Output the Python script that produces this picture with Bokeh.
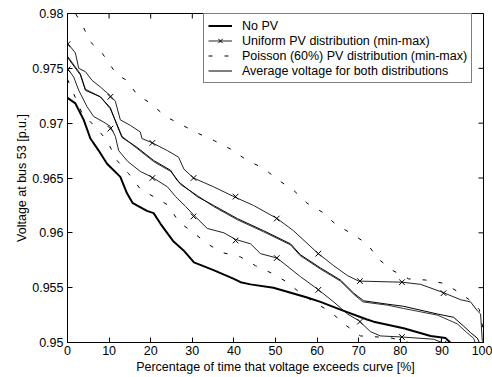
import math
from bokeh.plotting import figure
from bokeh.models import FixedTicker, Legend, LegendItem, Range1d
from bokeh.embed import file_html
from bokeh.resources import INLINE

# ---------------- data ----------------
nopv_x = [0, 1.9, 3.9, 5.5, 7.5, 9.5, 12.7, 14.3, 15.7, 19.1, 20.7, 22.4, 25.5, 27.9,
          30.4, 35.1, 40, 41.6, 44, 49.5, 57.6, 60.8, 65.6, 72, 73.6, 80.8, 87.3, 90.9, 92]
nopv_y = [0.9723, 0.9718, 0.9703, 0.9686, 0.9675, 0.9663, 0.9651, 0.9636, 0.9627, 0.9620,
          0.9618, 0.9608, 0.9592, 0.9584, 0.9573, 0.9566, 0.9558, 0.9555, 0.9553, 0.9550,
          0.9541, 0.9537, 0.9530, 0.9521, 0.9519, 0.9513, 0.9506, 0.9504, 0.9500]

umax_x = [0, 1.9, 2.7, 4.3, 5.9, 7.9, 10.3, 11.5, 12.7, 15.1, 17.5, 17.9, 20.4, 24, 26.7,
          28, 30.3, 35.1, 40, 44.7, 50.4, 54.3, 60, 64, 67.3, 70, 80.4, 84.9, 90, 94.5,
          96.9, 98.5, 99.3, 99.7, 100]
umax_y = [0.9773, 0.9764, 0.9750, 0.9747, 0.9739, 0.9733, 0.9725, 0.9720, 0.9703, 0.9698,
          0.9692, 0.9686, 0.9682, 0.9675, 0.9669, 0.9658, 0.9650, 0.9642, 0.9633, 0.9625,
          0.9613, 0.9602, 0.9582, 0.9570, 0.9561, 0.9556, 0.9555, 0.9553, 0.9546, 0.9539,
          0.9537, 0.9529, 0.9526, 0.9502, 0.9500]

umin_x = [0, 1.5, 2.7, 4.7, 6.3, 8.7, 10.3, 11.5, 12.3, 14.5, 17.5, 20.2, 24, 26, 28.4,
          30.4, 33.6, 37.6, 40.4, 44, 46.4, 50.4, 56, 60, 64, 67.3, 70, 72.8, 75.2, 80.4,
          88, 90, 91]
umin_y = [0.9750, 0.9742, 0.9730, 0.9715, 0.9706, 0.9701, 0.9697, 0.9688, 0.9675, 0.9665,
          0.9656, 0.9651, 0.9642, 0.9633, 0.9624, 0.9616, 0.9604, 0.9600, 0.9594, 0.9590,
          0.9581, 0.9577, 0.9560, 0.9549, 0.9537, 0.9526, 0.9520, 0.9510, 0.9506, 0.9505,
          0.9503, 0.9500, 0.9495]

umax_mark_x = [0, 10.3, 20.4, 30.3, 40.4, 50.3, 60.3, 70.3, 80.4, 90.4]
umax_mark_y = [0.9772, 0.9724, 0.9682, 0.9650, 0.9633, 0.9613, 0.9581, 0.9556, 0.9555, 0.9545]
umin_mark_x = [0, 10.3, 20.4, 30.3, 40.4, 50.3, 60.3, 70.3, 80.4, 90.4]
umin_mark_y = [0.9749, 0.9695, 0.9650, 0.9615, 0.9593, 0.9577, 0.9548, 0.9519, 0.9505, 0.9499]

pmax_x = [0, 3.5, 5.5, 8.3, 11.9, 14.3, 16.7, 20, 23.6, 27.2, 31.2, 35.3, 39.4, 43.2, 47.1,
          50.7, 54.3, 57.6, 61.2, 64.4, 68.4, 72, 74.8, 78, 82, 86, 90.4, 94, 97.3, 99, 100]
pmax_y = [0.9812, 0.9790, 0.9774, 0.9764, 0.9744, 0.9739, 0.9726, 0.9718, 0.9706, 0.9699,
          0.9691, 0.9684, 0.9676, 0.9666, 0.9659, 0.9648, 0.9639, 0.9627, 0.9619, 0.9608,
          0.9599, 0.9590, 0.9576, 0.9566, 0.9558, 0.9557, 0.9554, 0.9546, 0.9537, 0.9530,
          0.9510]

pmin_x = [0, 3.5, 7.1, 9.5, 11.9, 14.7, 17.5, 20.7, 24.3, 26.7, 30, 33.6, 37.2, 41.6, 45.2,
          49.2, 52.8, 56, 59.6, 63.2, 66.8, 70.4, 74.8, 78, 82, 84]
pmin_y = [0.9740, 0.9709, 0.9695, 0.9684, 0.9666, 0.9654, 0.9640, 0.9633, 0.9625, 0.9610,
          0.9601, 0.9590, 0.9582, 0.9578, 0.9570, 0.9563, 0.9555, 0.9545, 0.9536, 0.9528,
          0.9516, 0.9506, 0.9505, 0.9504, 0.9500, 0.9497]

avgu_x = [0, 3.1, 4.3, 7.9, 10.3, 11.9, 13.1, 16.7, 20.7, 24.8, 26.3, 27.2, 31.2, 35.1, 40.8,
          47.1, 53.6, 56, 60.8, 65.6, 68.8, 71.2, 76.8, 80.8, 88.9, 92.8, 95.2, 96.9, 98.5, 99]
avgu_y = [0.9760, 0.9744, 0.9730, 0.9724, 0.9714, 0.9698, 0.9687, 0.9678, 0.9666, 0.9657,
          0.9648, 0.9645, 0.9633, 0.9625, 0.9613, 0.9602, 0.9590, 0.9580, 0.9568, 0.9557,
          0.9545, 0.9538, 0.9535, 0.9533, 0.9526, 0.9523, 0.9515, 0.9509, 0.9504, 0.9500]

avgp_x = [0, 3.1, 4.3, 7.9, 10.3, 11.9, 13.1, 16.7, 20.7, 24.8, 26.3, 27.2, 31.2, 35.1, 40.8,
          47.1, 53.6, 56, 60.8, 65.6, 68.8, 71, 77, 80.8, 88.9, 93.7, 96, 97.6, 98]
avgp_y = [0.9761, 0.9745, 0.9731, 0.9724, 0.9713, 0.9699, 0.9688, 0.9677, 0.9665, 0.9656,
          0.9649, 0.9644, 0.9634, 0.9624, 0.9612, 0.9601, 0.9589, 0.9579, 0.9567, 0.9556,
          0.9544, 0.9537, 0.9534, 0.9531, 0.9525, 0.9517, 0.9509, 0.9504, 0.9500]

x_ticks = [0, 10, 20, 30, 40, 50, 60, 70, 80, 90, 100]
x_tick_labels = ["0", "10", "20", "30", "40", "50", "60", "70", "80", "90", "100"]
y_ticks = [0.95, 0.955, 0.96, 0.965, 0.97, 0.975, 0.98]
y_tick_labels = ["0.95", "0.955", "0.96", "0.965", "0.97", "0.975", "0.98"]

legend_labels = ["No PV", "Uniform PV distribution (min-max)",
                 "Poisson (60%) PV distribution (min-max)",
                 "Average voltage for both distributions"]

# ---------------- figure ----------------
FONT = "Liberation Sans"
FS = "12.5px"
p = figure(width=492, height=377, output_backend="svg", toolbar_location=None,
           x_range=Range1d(0, 100), y_range=Range1d(0.95, 0.98),
           min_border_left=67, min_border_right=9, min_border_top=13, min_border_bottom=35,
           x_axis_label="Percentage of time that voltage exceeds curve [%]",
           y_axis_label="Voltage at bus 53 [p.u.]")
p.background_fill_color = "white"
p.border_fill_color = "white"
p.outline_line_color = "black"
p.outline_line_width = 1
p.xgrid.visible = False
p.ygrid.visible = False

def style_axis(ax, ticks, labels):
    ax.ticker = FixedTicker(ticks=ticks)
    ax.major_label_overrides = dict(zip(ticks, labels))
    ax.minor_tick_line_color = None
    ax.major_tick_in = 5
    ax.major_tick_out = 0
    ax.axis_line_color = "black"
    ax.major_tick_line_color = "black"
    ax.major_label_text_font = FONT
    ax.major_label_text_font_size = FS
    ax.major_label_text_color = "black"
    ax.axis_label_text_font = FONT
    ax.axis_label_text_font_style = "normal"
    ax.axis_label_text_font_size = FS
    ax.axis_label_text_color = "black"

style_axis(p.xaxis[0], x_ticks, x_tick_labels)
p.xaxis[0].major_label_standoff = 3
p.xaxis[0].axis_label_standoff = 2
style_axis(p.yaxis[0], y_ticks, y_tick_labels)
p.yaxis[0].major_label_standoff = 4
p.yaxis[0].axis_label_standoff = 0

# inward ticks on the top and right edges of the box
p.ray(x=x_ticks, y=[p.y_range.end] * len(x_ticks), length=5, length_units="screen",
      angle=-math.pi / 2, line_color="black", line_width=1)
p.ray(x=[p.x_range.end] * len(y_ticks), y=y_ticks, length=5, length_units="screen",
      angle=math.pi, line_color="black", line_width=1)

# ---------------- series ----------------
DASH = "4 12"
r_pmax = p.line(pmax_x, pmax_y, line_color="black", line_width=1, line_dash=DASH)
r_pmin = p.line(pmin_x, pmin_y, line_color="black", line_width=1, line_dash=DASH)
r_avgp = p.line(avgp_x, avgp_y, line_color="#333333", line_width=1)
r_avgu = p.line(avgu_x, avgu_y, line_color="black", line_width=1)
r_umax = p.line(umax_x, umax_y, line_color="#222222", line_width=1)
r_umin = p.line(umin_x, umin_y, line_color="#222222", line_width=1)
r_umaxm = p.scatter(umax_mark_x, umax_mark_y, marker="x", size=8, line_color="black", line_width=1)
r_uminm = p.scatter(umin_mark_x, umin_mark_y, marker="x", size=8, line_color="black", line_width=1)
r_nopv = p.line(nopv_x, nopv_y, line_color="black", line_width=2)

legend = Legend(items=[
    LegendItem(label=legend_labels[0], renderers=[r_nopv]),
    LegendItem(label=legend_labels[1], renderers=[r_umax, r_umaxm]),
    LegendItem(label=legend_labels[2], renderers=[r_pmax]),
    LegendItem(label=legend_labels[3], renderers=[r_avgu]),
], location=(136, 259))
legend.label_text_font = FONT
legend.label_text_font_size = FS
legend.label_text_color = "black"
legend.glyph_width = 24
legend.glyph_height = 15
legend.label_height = 15
legend.label_standoff = 10
legend.spacing = 0
legend.padding = 4
legend.margin = 0
legend.border_line_color = "black"
legend.border_line_width = 1
legend.background_fill_color = "white"
legend.background_fill_alpha = 1
p.add_layout(legend, "center")

open("out.html", "w").write(file_html(p, INLINE))
